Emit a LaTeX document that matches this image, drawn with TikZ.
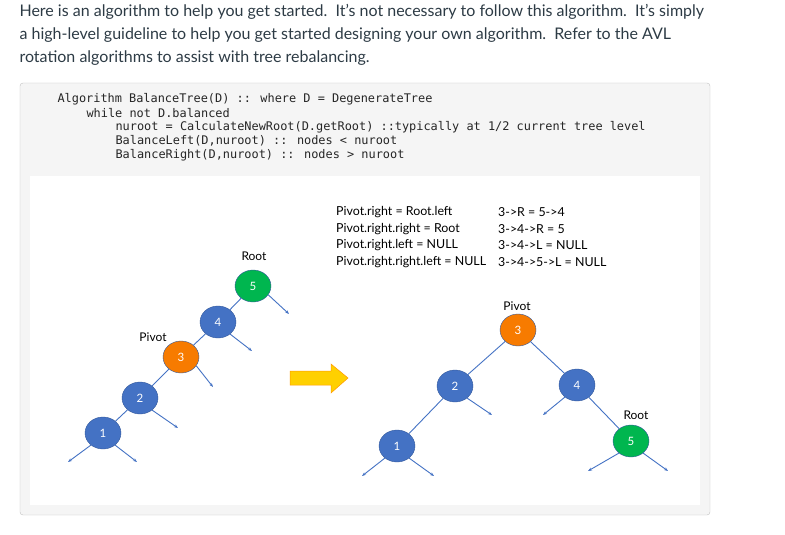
\documentclass[tikz,border=0pt]{standalone}
\usepackage{fontspec}
\setmainfont{Lato}
\newfontfamily\codefont{DejaVu Sans Mono}
\usetikzlibrary{shapes.geometric,arrows.meta}
\definecolor{nblue}{HTML}{4472C4}
\definecolor{norange}{HTML}{F77B00}
\definecolor{ngreen}{HTML}{00B64F}
\definecolor{txt}{HTML}{2D3B45}
\definecolor{ebl}{HTML}{4472C4}
\begin{document}
\begin{tikzpicture}[x=1pt,y=-1pt,
  tn/.style={ellipse,minimum width=36pt,minimum height=32pt,inner sep=0pt,draw=nblue!80!black,line width=0.4pt,text=white,font=\fontsize{11.5}{13}\selectfont},
  bn/.style={tn,fill=nblue},
  on/.style={tn,fill=norange},
  gn/.style={tn,fill=ngreen},
  ed/.style={draw=ebl,line width=0.9pt},
  st/.style={ed,-{Stealth[length=4pt,width=3pt]}},
  lab/.style={font=\fontsize{12}{14}\selectfont,text=black},
  para/.style={anchor=west,font=\fontsize{16}{19}\selectfont,text=txt},
  code/.style={anchor=west,font=\codefont\fontsize{11.9}{13}\selectfont,text=black!85},
  rt/.style={anchor=west,font=\fontsize{12.4}{14}\selectfont,text=black,inner sep=0pt}]
\useasboundingbox (0,0) rectangle (785,535);
\node[para] (p1) at (16,12) {Here is an algorithm to help you get started.\ \ It's not necessary to follow this algorithm.\ \ It's simply};
\node[para] (p2) at (16,35) {a high-level guideline to help you get started designing your own algorithm.\ \ Refer to the AVL};
\node[para] (p3) at (16,58) {rotation algorithms to assist with tree rebalancing.};
\draw[draw=black!25,fill=black!4,rounded corners=3pt] (20,83) rectangle (710,515);
\node[code] (c1) at (54,99) {Algorithm BalanceTree(D) :: where D = DegenerateTree};
\node[code] (c2) at (83,113) {while not D.balanced};
\node[code] (c3) at (112,127) {nuroot = CalculateNewRoot(D.getRoot) ::typically at 1/2 current tree level};
\node[code] (c4) at (112,141) {BalanceLeft(D,nuroot) :: nodes < nuroot};
\node[code] (c5) at (112,155) {BalanceRight(D,nuroot) :: nodes > nuroot};
\fill[white] (30,176) rectangle (700,505);
% left tree
\node[bn] (a1) at (103,433) {1};
\node[bn] (a2) at (140,398) {2};
\node[on] (a3) at (181,357) {3};
\node[bn] (a4) at (218,322) {4};
\node[gn] (a5) at (253,286) {5};
\node[lab] (lr) at (254,256) {Root};
\node[lab] (lp) at (153,337) {Pivot};
\draw[ed] (a1)--(a2) (a2)--(a3) (a3)--(a4) (a4)--(a5);
\coordinate (s1) at (68,462); \coordinate (s2) at (137,462);
\coordinate (s3) at (178,428); \coordinate (s4) at (213,387);
\coordinate (s5) at (252,351); \coordinate (s6) at (289,314);
\draw[st] (a1.225)--(s1); \draw[st] (a1.-45)--(s2);
\draw[st] (a2.-45)--(s3); \draw[st] (a3.-30)--(s4);
\draw[st] (a4.-45)--(s5); \draw[st] (a5.-30)--(s6);
% big arrow
\draw[fill=orange!30!yellow!90!orange,draw=orange!80!yellow,line width=0.5pt] (290,371)--(331,371)--(331,364)--(348,378)--(331,393)--(331,385)--(290,385)--cycle;
% text
\node[rt] (t1) at (336,212) {Pivot.right = Root.left};
\node[rt] (t2) at (336,229) {Pivot.right.right = Root};
\node[rt] (t3) at (336,245) {Pivot.right.left = NULL};
\node[rt] (t4) at (336,262) {Pivot.right.right.left = NULL};
\node[rt] (u1) at (498,212) {3->R = 5->4};
\node[rt] (u2) at (498,229) {3->4->R = 5};
\node[rt] (u3) at (498,245) {3->4->L = NULL};
\node[rt] (u4) at (498,262) {3->4->5->L = NULL};
% right tree
\node[on] (b3) at (518,330) {3};
\node[bn] (b2) at (455,386) {2};
\node[bn] (b4) at (577,385) {4};
\node[bn] (b1) at (397,446) {1};
\node[gn] (b5) at (631,441) {5};
\node[lab] (rp) at (517,306) {Pivot};
\node[lab] (rr) at (636,415) {Root};
\draw[ed] (b3)--(b2) (b3)--(b4) (b2)--(b1) (b4)--(b5);
\coordinate (r1) at (492,415); \coordinate (r2) at (543,415);
\coordinate (r3) at (362,476); \coordinate (r4) at (434,476);
\coordinate (r5) at (588,471); \coordinate (r6) at (668,471);
\draw[st] (b2.-45)--(r1); \draw[st] (b4.225)--(r2);
\draw[st] (b1.225)--(r3); \draw[st] (b1.-45)--(r4);
\draw[st] (b5.225)--(r5); \draw[st] (b5.-45)--(r6);
\end{tikzpicture}
\end{document}
